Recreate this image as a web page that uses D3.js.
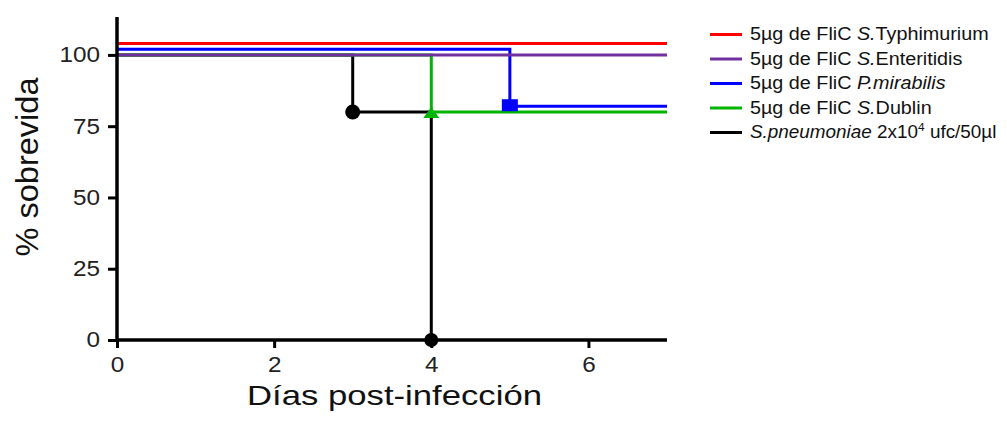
<!DOCTYPE html>
<html>
<head>
<meta charset="utf-8">
<script src="https://cdn.jsdelivr.net/npm/d3@7"></script>
<style>
  body { margin: 0; background: #fff; }
  svg { font-family: "Liberation Sans", Arial, sans-serif; }
</style>
</head>
<body>
<svg id="canvas" width="1007" height="423"></svg>
<script>
// step data (days, % survival) - small offsets like the original plot
let redDays = [0, 7];
let redSurv = [104, 104];
let purpleDays = [0, 7];
let purpleSurv = [100, 100];
let blueDays = [0, 5, 7];
let blueSurv = [102, 82, 82];
let greenDays = [0, 4, 7];
let greenSurv = [100, 80, 80];
let blackDays = [0, 3, 4];
let blackSurv = [100, 80, 0];

let xTicks = [0, 2, 4, 6];
let yTicks = [0, 25, 50, 75, 100];

let canvas = d3.select('#canvas');

// original picture is a bit stretched sideways
let stretch = 1.13;

let x = d3.scaleLinear().domain([0, 7]).range([117, 667]);
let y = d3.scaleLinear().domain([0, 113.3]).range([340, 17]);

let stepLine = d3.line()
  .x(d => x(d[0]))
  .y(d => y(d[1]))
  .curve(d3.curveStepAfter);

let series = [
  { days: blackDays, surv: blackSurv, color: '#000000' },
  { days: greenDays, surv: greenSurv, color: '#00b400' },
  { days: blueDays, surv: blueSurv, color: '#0000ff' },
  { days: purpleDays, surv: purpleSurv, color: '#7030a0' },
  { days: redDays, surv: redSurv, color: '#ff0000' }
];

series.forEach(s => {
  let pts = s.days.map((d, i) => [d, s.surv[i]]);
  canvas.append('path')
    .attr('d', stepLine(pts))
    .attr('fill', 'none')
    .attr('stroke', s.color)
    .attr('stroke-width', 3);
});

// axes
let xAxis = d3.axisBottom(x).tickValues(xTicks).tickFormat(d3.format('d')).tickSize(8).tickPadding(3);
let yAxis = d3.axisLeft(y).tickValues(yTicks).tickFormat(d3.format('d')).tickSize(9).tickPadding(3);

let gx = canvas.append('g').attr('transform', 'translate(0,340)').call(xAxis);
let gy = canvas.append('g').attr('transform', 'translate(117,0)').call(yAxis);

[gx, gy].forEach(g => {
  g.select('.domain').attr('stroke', '#000').attr('stroke-width', 3.5);
  g.selectAll('.tick line').attr('stroke', '#000').attr('stroke-width', 3);
  g.selectAll('.tick text').attr('font-size', 21.5).attr('fill', '#222')
    .attr('font-family', '"Liberation Sans", Arial, sans-serif');
});
gx.select('.domain').attr('d', 'M' + x(0) + ',0H' + x(7));
gy.select('.domain').attr('d', 'M0,' + y(0) + 'V' + y(113.3));
gx.selectAll('.tick text').attr('y', 32.5).attr('dy', 0)
  .attr('transform', 'scale(' + stretch + ',1)');
gy.selectAll('.tick text').attr('x', -15)
  .attr('transform', 'scale(' + stretch + ',1)');

// markers
canvas.append('circle').attr('cx', x(3)).attr('cy', y(80)).attr('r', 7.5).attr('fill', '#000');
canvas.append('circle').attr('cx', x(4)).attr('cy', y(0)).attr('r', 7).attr('fill', '#000');
canvas.append('path')
  .attr('d', 'M0,-6L8,5L-8,5Z')
  .attr('transform', 'translate(' + x(4) + ',' + (y(80) + 1) + ')')
  .attr('fill', '#00b400');
canvas.append('rect')
  .attr('x', x(5) - 8).attr('y', y(82) - 7).attr('width', 16).attr('height', 12)
  .attr('fill', '#0000ff');

// axis titles
canvas.append('text')
  .attr('transform', 'translate(38,167) rotate(-90)')
  .attr('text-anchor', 'middle')
  .attr('font-size', 31)
  .attr('fill', '#111')
  .attr('textLength', 179)
  .attr('lengthAdjust', 'spacingAndGlyphs')
  .text('% sobrevida');

canvas.append('text')
  .attr('x', 394.5).attr('y', 405)
  .attr('text-anchor', 'middle')
  .attr('font-size', 28)
  .attr('fill', '#111')
  .attr('textLength', 295)
  .attr('lengthAdjust', 'spacingAndGlyphs')
  .text('Días post-infección');

// legend
let legendColors = ['#ff0000', '#7030a0', '#0000ff', '#00b400', '#000000'];
let legend = canvas.append('g');
legendColors.forEach((c, i) => {
  let ly = 34.5 + i * 24.5;
  legend.append('line')
    .attr('x1', 710).attr('x2', 742).attr('y1', ly).attr('y2', ly)
    .attr('stroke', c).attr('stroke-width', 3);
  let sx = i < 4 ? stretch : 1.08;
  let t = legend.append('text')
    .attr('transform', 'translate(750,' + (ly + 5.5) + ') scale(' + sx + ',1)')
    .attr('font-size', 17.5)
    .attr('fill', '#111');
  if (i < 4) {
    t.append('tspan').text('5µg de FliC ');
    let spec = [['S.', 'Typhimurium'], ['S.', 'Enteritidis'], ['P.mirabilis', ''], ['S.', 'Dublin']][i];
    t.append('tspan').attr('font-style', 'italic').text(spec[0]);
    t.append('tspan').text(spec[1]);
  } else {
    t.append('tspan').attr('font-style', 'italic').text('S.pneumoniae');
    t.append('tspan').text(' 2x10');
    t.append('tspan').attr('font-size', 11).attr('dy', -7).text('4');
    t.append('tspan').attr('dy', 7).text(' ufc/50µl');
  }
});
</script>
</body>
</html>
